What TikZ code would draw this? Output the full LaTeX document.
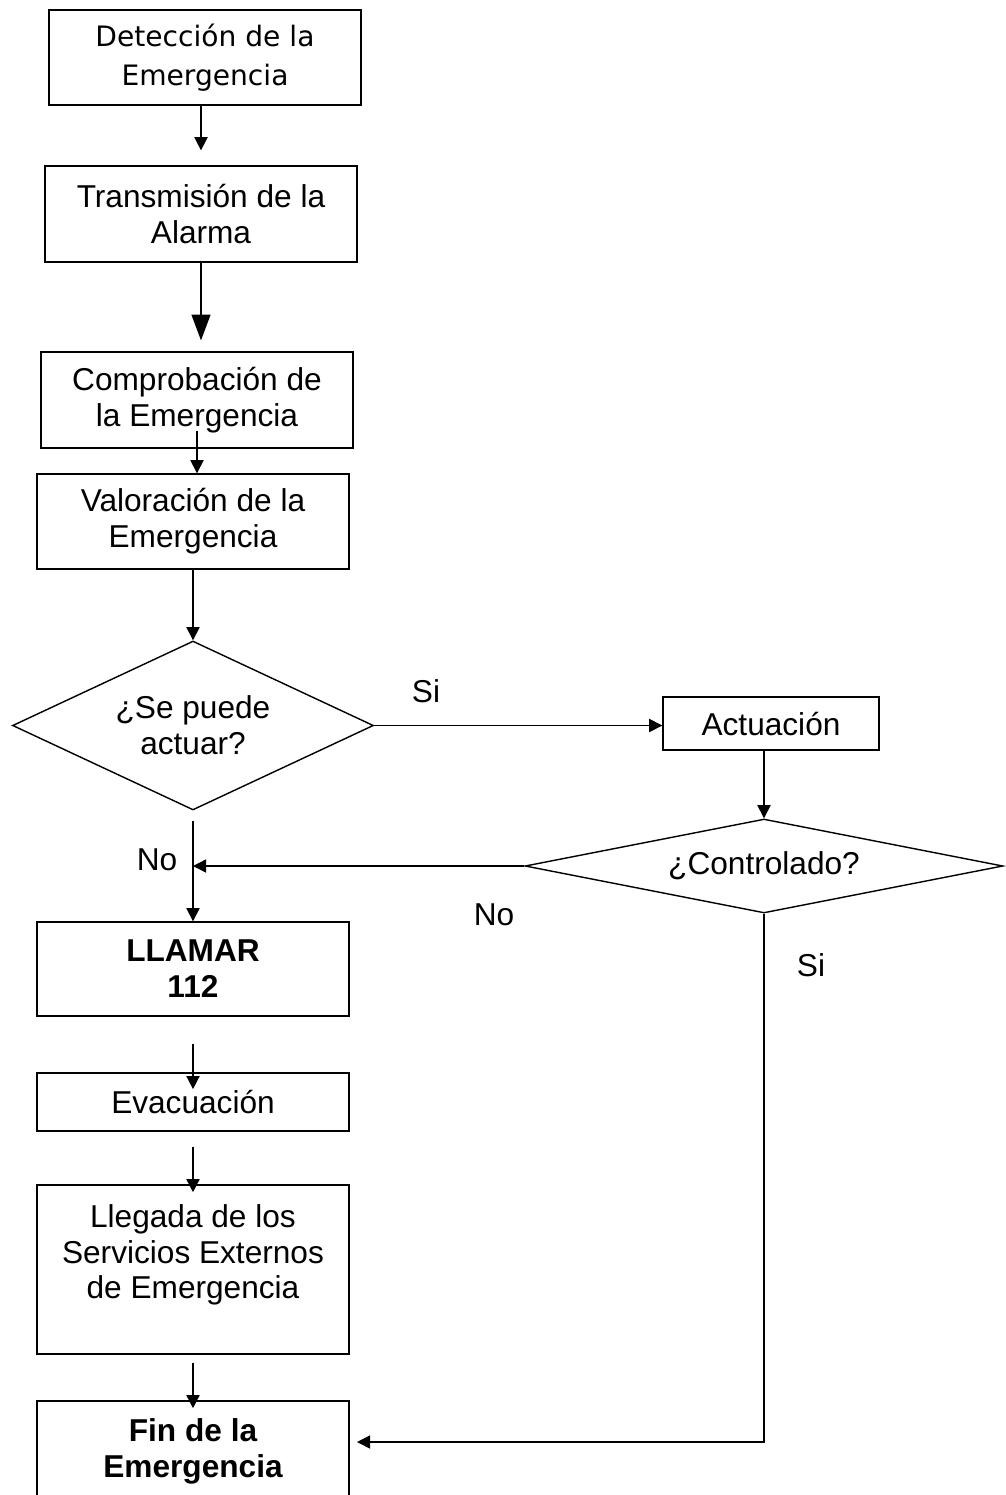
\documentclass[tikz,border=0pt]{standalone}
\usepackage{fontspec}
\setmainfont{Liberation Sans}
\newfontfamily\dejavu{DejaVu Sans}
\usetikzlibrary{shapes.geometric}
\usetikzlibrary{arrows.meta}

\tikzset{
  caja/.style={draw, line width=0.8pt, align=center, inner sep=0pt, minimum width=6.24cm, font=\fontsize{18}{20.4}\selectfont},
  rombo/.style={draw, diamond, line width=0.8pt, align=center, inner sep=0pt, font=\fontsize{18}{20.4}\selectfont},
  flecha/.style={line width=0.8pt, -{Triangle[length=7.5pt,width=7.5pt]}},
  etiq/.style={font=\fontsize{18}{20.4}\selectfont}
}

\begin{document}
\begin{tikzpicture}[x=0.02cm, y=-0.02cm]
          \path[use as bounding box, clip] (0,0) rectangle (1006,1495);
          \fill[white] (0,0) rectangle (1006,1495);
          \node[caja, minimum height=1.9cm, font=\dejavu\fontsize{16}{22.1}\selectfont] (deteccion) at (205,57.5) {Detección de la\\Emergencia};
          \node[caja, minimum height=1.92cm] (transmision) at (201,214) {Transmisión de la\\Alarma};
          \node[caja, minimum height=1.92cm] (comprobacion) at (197,400) {Comprobación de\\la Emergencia};
          \node[caja, minimum height=1.9cm] (valoracion) at (193,521.5) {Valoración de la\\Emergencia};
          \node[rombo, aspect=2.14, minimum width=7.22cm, minimum height=3.38cm] (actuar) at (193,725.5) {¿Se puede\\actuar?};
          \node[caja, minimum width=4.32cm, minimum height=1.06cm] (actuacion) at (771,723.5) {Actuación};
          \node[rombo, aspect=5, minimum width=9.56cm, minimum height=1.88cm] (controlado) at (764,866) {¿Controlado?};
          \node[caja, minimum height=1.88cm, font=\bfseries\fontsize{18}{20.4}\selectfont] (llamar) at (193,969) {LLAMAR\\112};
          \node[caja, minimum height=1.16cm] (evacuacion) at (193,1102) {Evacuación};
          \node[caja, minimum height=3.38cm] (llegada) at (193,1269.5) {Llegada de los\\Servicios Externos\\de Emergencia\\\mbox{}};
          \node[caja, minimum height=2cm, font=\bfseries\fontsize{18}{20.4}\selectfont] (fin) at (193,1451) {Fin de la\\Emergencia};
          \coordinate (finentrada) at (357,1442);
          \draw[flecha, shorten >=8.5pt] (deteccion.south -| transmision.north) -- (transmision.north);
          \draw[line width=0.8pt, -{Triangle[length=14.7pt,width=10.8pt]}, shorten >=6.2pt] (transmision.south) -- (transmision.south |- comprobacion.north);
          \draw[flecha, shorten <=-10.2pt] (comprobacion.south) -- (comprobacion.south |- valoracion.north);
          \draw[flecha] (valoracion.south) -- (actuar.north);
          \draw[flecha] (actuar.east) -- (actuar.east -| actuacion.west);
          \draw[flecha] (actuacion.south -| controlado.north) -- (controlado.north);
          \draw[flecha] (controlado.west) -- (controlado.west -| llamar.north);
          \draw[flecha, shorten <=5.7pt] (actuar.south) -- (llamar.north);
          \draw[flecha, shorten <=15.3pt, shorten >=-9.6pt] (llamar.south) -- (evacuacion.north);
          \draw[flecha, shorten <=8.5pt, shorten >=-4.5pt] (evacuacion.south) -- (llegada.north);
          \draw[flecha, shorten <=4.5pt, shorten >=-4.5pt] (llegada.south) -- (fin.north);
          \draw[flecha] (controlado.south) |- (finentrada);
          \node[etiq] (siactuar) at (426,691) {Si};
          \node[etiq] (noactuar) at (157,860) {No};
          \node[etiq] (nocontrol) at (494,915) {No};
          \node[etiq] (sicontrol) at (811,965) {Si};
        \end{tikzpicture}
\end{document}
